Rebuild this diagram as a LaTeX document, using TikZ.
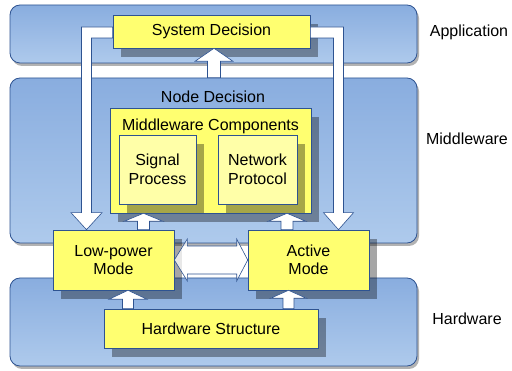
\documentclass[tikz,border=0pt]{standalone}
\usepackage{fontspec}
\setmainfont{Liberation Sans}
\usetikzlibrary{calc,shadows}

\definecolor{panelTop}{HTML}{89ADDF}
\definecolor{panelBot}{HTML}{AECAEC}
\definecolor{edge}{HTML}{2E5391}
\definecolor{boxYellow}{HTML}{FFFF70}
\definecolor{innerYellow}{HTML}{FFFFA8}

\newcommand\labelfont{\fontsize{16}{18.5}\selectfont}

% Upward block arrow: #1 point giving x, #2 tip, #3 tail,
% #4 head half-width, #5 shaft half-width, #6 head length (all in pt)
\newcommand\UpArrow[6]{%
  \draw[bigarrow] let \p1=#1, \p2=#2, \p3=#3 in
    (\x1,\y2) -- (\x1+#4pt,\y2-#6pt) -- (\x1+#5pt,\y2-#6pt) -- (\x1+#5pt,\y3)
    -- (\x1-#5pt,\y3) -- (\x1-#5pt,\y2-#6pt) -- (\x1-#4pt,\y2-#6pt) -- cycle;}

\begin{document}
\begin{tikzpicture}[x=1pt,y=-1pt,
  layer/.style={rounded corners=10pt, draw=edge, line width=0.8pt,
    top color=panelTop, bottom color=panelBot, minimum width=407pt,
    drop shadow={shadow xshift=2pt, shadow yshift=-3pt, fill=black, opacity=0.3}},
  box/.style={draw=edge, line width=0.6pt, fill=boxYellow, align=center,
    font=\labelfont, inner sep=0pt,
    drop shadow={shadow xshift=8pt, shadow yshift=-9pt, fill=black, opacity=0.35}},
  innerbox/.style={box, fill=innerYellow},
  tag/.style={font=\labelfont, inner sep=0pt},
  bigarrow/.style={draw=edge, line width=0.6pt, fill=white, line join=miter},
  twoway/.style={bigarrow, fill opacity=0.75}]

\useasboundingbox (0,0) rectangle (512,371);

% layers
\node[layer, minimum height=58pt]  (app) at (213.5,34)    {};
\node[layer, minimum height=165pt] (mid) at (213.5,160.5) {};
\node[layer, minimum height=88pt]  (hwl) at (213.5,322)   {};

\node[tag] (appname) at (469,32)  {Application};
\node[tag] (midname) at (467,139) {Middleware};
\node[tag] (hwname)  at (467,319) {Hardware};
\node[tag] (nodedec) at (213,97)  {Node Decision};

% boxes
\node[box, minimum width=197pt, minimum height=33pt] (sys) at (211.5,31.5) {System Decision};
\node[box, minimum width=201pt, minimum height=105pt] (comp) at (210.5,160.5) {};
\node[tag] (comptitle) at (210.5,126) {Middleware Components};
\node[innerbox, minimum width=77pt, minimum height=69pt] (sig) at (157.5,169.5) {Signal\\Process};
\node[innerbox, minimum width=79pt, minimum height=69pt] (net) at (257.5,169.5) {Network\\Protocol};
\node[box, minimum width=121pt, minimum height=60pt] (lp)  at (113.5,260) {Low-power\\Mode};
\node[box, minimum width=121pt, minimum height=60pt] (act) at (308.5,260) {Active\\Mode};
\node[box, minimum width=214pt, minimum height=39pt] (hws) at (211,328.5) {Hardware Structure};

% straight up arrows
\UpArrow{($(sys.south)+(2.5,0)$)}{(sys.south)}{(mid.north)}{19}{6.5}{13}
\UpArrow{($(lp.north)+(30,0)$)}{(comp.south)}{(lp.north)}{19.5}{6}{8}
\UpArrow{($(act.north)+(-21.5,0)$)}{(comp.south)}{(act.north)}{19}{6}{8}
\UpArrow{($(lp.south)+(14.5,0)$)}{(lp.south)}{(hws.north)}{19}{5.5}{9}
\UpArrow{($(act.south)+(-20,0)$)}{(act.south)}{(hws.north)}{18}{5.5}{8}

% system decision down to low-power mode
\draw[bigarrow] let \p1=(sys.west), \p2=(lp.north), \p3=($(lp.north)+(-27,0)$) in
  (\x1,\y1+4.5pt) -- (\x3-5pt,\y1+4.5pt) -- (\x3-5pt,\y2+17pt) -- (\x3-15.5pt,\y2+17pt)
  -- (\x3,\y2) -- (\x3+15.5pt,\y2+17pt) -- (\x3+5pt,\y2+17pt) -- (\x3+5pt,\y1-6.5pt)
  -- (\x1,\y1-6.5pt) -- cycle;

% system decision down to active mode
\draw[bigarrow] let \p1=(sys.east), \p2=(act.north), \p3=($(act.north)+(30,0)$) in
  (\x1,\y1+4.5pt) -- (\x3+5pt,\y1+4.5pt) -- (\x3+5pt,\y2+17pt) -- (\x3+15pt,\y2+17pt)
  -- (\x3,\y2) -- (\x3-15pt,\y2+17pt) -- (\x3-5pt,\y2+17pt) -- (\x3-5pt,\y1-6.5pt)
  -- (\x1,\y1-6.5pt) -- cycle;

% low-power <-> active
\draw[twoway] let \p1=(lp.east), \p2=(act.west) in
  (\x1,\y1) -- (\x1+13pt,\y1+21pt) -- (\x1+13pt,\y1+14pt) -- (\x2-11pt,\y1+14pt)
  -- (\x2-11pt,\y1+21pt) -- (\x2,\y1) -- (\x2-11pt,\y1-21pt) -- (\x2-11pt,\y1-14pt)
  -- (\x1+13pt,\y1-14pt) -- (\x1+13pt,\y1-21pt) -- cycle;

\end{tikzpicture}
\end{document}
